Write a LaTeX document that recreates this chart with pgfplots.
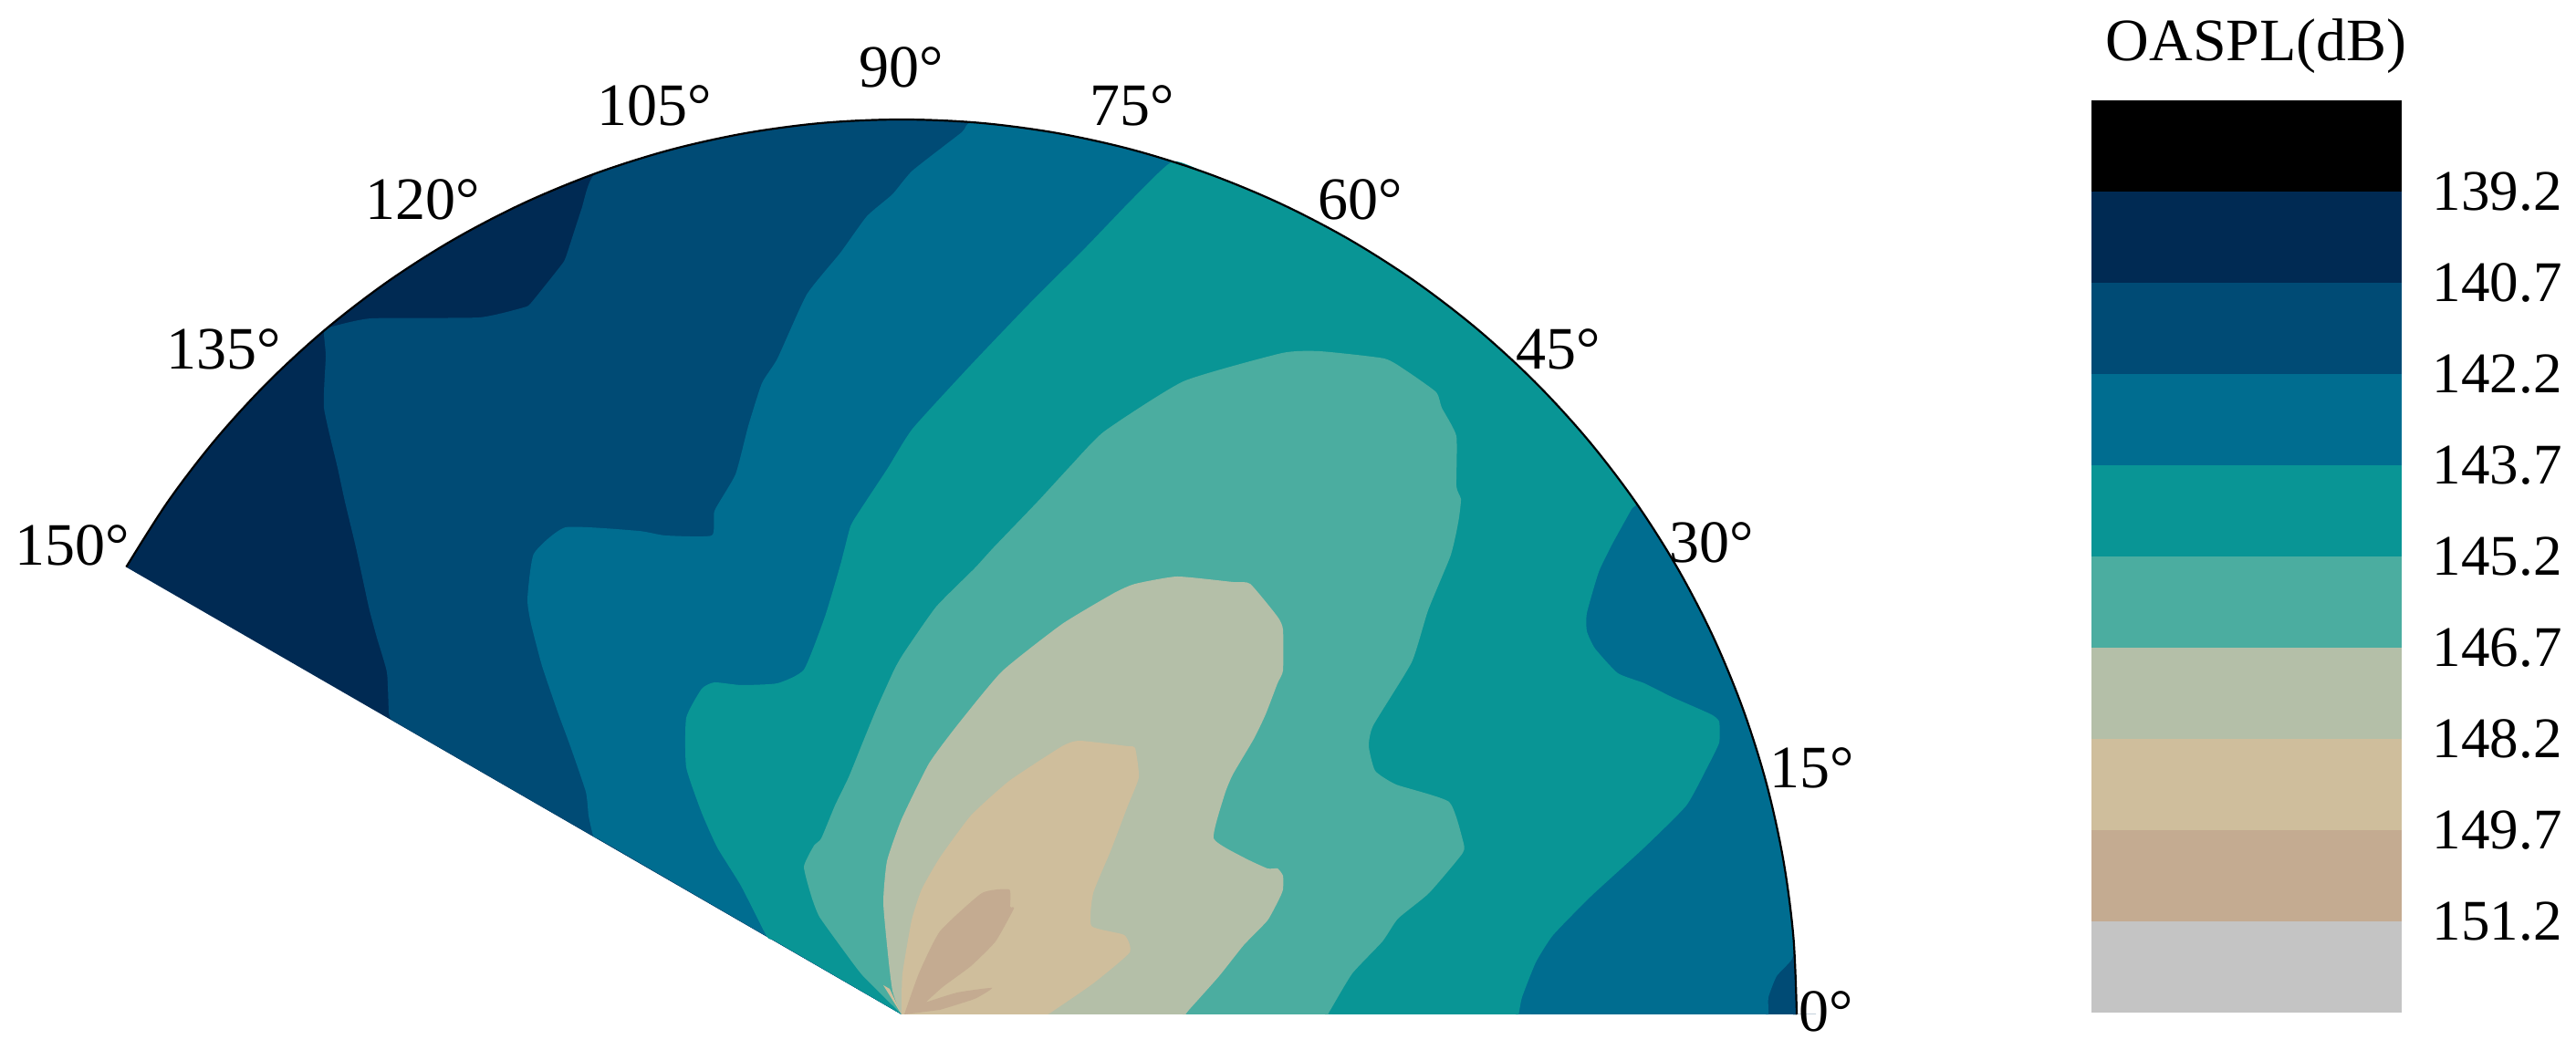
\documentclass[border=0pt]{standalone}
\usepackage{pgfplots}
\pgfplotsset{compat=1.18}
\usepackage{fontspec}
\setmainfont{Liberation Serif}
\definecolor{cA}{HTML}{000000}
\definecolor{cB}{HTML}{002A53}
\definecolor{cC}{HTML}{004B75}
\definecolor{cD}{HTML}{006D90}
\definecolor{cE}{HTML}{099595}
\definecolor{cF}{HTML}{4BADA0}
\definecolor{cG}{HTML}{B4BFA8}
\definecolor{cH}{HTML}{CFBE9C}
\definecolor{cI}{HTML}{C4AB91}
\definecolor{cJ}{HTML}{C4C4C4}
\newcommand{\lblfont}{\fontsize{15.75}{18}\selectfont}
\newcommand{\anglefont}{\fontsize{16.5}{18}\selectfont}
\begin{document}
\begin{tikzpicture}
\useasboundingbox (0,0) rectangle (705.75pt,287.75pt);
\begin{axis}[
  at={(0,0)}, anchor=south west,
  scale only axis, width=705.75pt, height=287.75pt,
  xmin=0, xmax=2823, ymin=0, ymax=1151, y dir=reverse,
  hide axis, clip=false,
  every axis plot/.append style={no markers},
]
% 140.7 band: whole sector
\addplot[fill=cB, draw=none, smooth, tension=0.3] coordinates {
 (988,1112)(1950,1112)(1965,1112)(1969,1112)(1969,1108)(1968,1090)(1965.3,1026.5)(1954.1,941.6)(1935.6,858.1)(1909.8,776.5)(1877.1,697.4)(1837.6,621.5)
 (1791.6,549.3)(1739.5,481.4)(1681.7,418.3)(1618.6,360.5)(1550.7,308.4)(1478.5,262.4)(1402.6,222.9)(1323.5,190.2)
 (1241.9,164.4)(1158.4,145.9)(1073.5,134.7)(988,131)(902.5,134.7)(817.6,145.9)(734.1,164.4)(652.5,190.2)
 (573.4,222.9)(497.5,262.4)(425.3,308.4)(357.4,360.5)(294.3,418.3)(236.5,481.4)(184.4,549.3)(140,619)(138.4,621.5)(145,625.5)} -- cycle;
% 142.2 band
\addplot[fill=cC, draw=none, smooth, tension=0.3] coordinates {
 (988,1112)(1950,1112)(1965,1112)(1969,1112)(1969,1108)(1968,1090)(1965.3,1026.5)(1954.1,941.6)(1935.6,858.1)(1909.8,776.5)(1877.1,697.4)(1837.6,621.5)
 (1791.6,549.3)(1739.5,481.4)(1681.7,418.3)(1618.6,360.5)(1550.7,308.4)(1478.5,262.4)(1402.6,222.9)(1323.5,190.2)
 (1241.9,164.4)(1158.4,145.9)(1073.5,134.7)(988,131)(902.5,134.7)(817.6,145.9)(734.1,164.4)(652.5,190.2)
 (637,230)(620,282)(614,292)(582,332)(574,337)(525,348)(407,349)(364,358)(355,363)
 (357,390)(355,447)(370,513)(378,550)(390,600)(404,665)(413,699)(424,737)(426,780)(428,788)(434,792)} -- cycle;
% 143.7 band
\addplot[fill=cD, draw=none, smooth, tension=0.3] coordinates {
 (988,1112)(1925,1112)(1935,1112)(1938,1112)(1938,1108)(1938,1093)(1947,1070)(1964,1051)(1965.3,1026.5)(1954.1,941.6)(1935.6,858.1)(1909.8,776.5)(1877.1,697.4)(1837.6,621.5)
 (1791.6,549.3)(1739.5,481.4)(1681.7,418.3)(1618.6,360.5)(1550.7,308.4)(1478.5,262.4)(1402.6,222.9)(1323.5,190.2)
 (1241.9,164.4)(1158.4,145.9)(1066,134)(1054,145)(1000,187)(978,213)(950,237)(921,277)(884,323)(852,393)(835,420)
 (820,467)(806,520)(783,560)(780,587)(729,587)(700,582)(620,578)(585,607)(578,657)(582,684)(594,730)(611,780)(625,818)
 (642,868)(645,894)(650,916)(656,919.5)} -- cycle;
% 145.2 band
\addplot[fill=cE, draw=none, smooth, tension=0.3] coordinates {
 (988,1112)(1650,1112)(1661,1112)(1664,1112)(1665,1108)(1668,1093)(1683,1055)(1702,1025)(1744,982)(1802,929)(1848,883)(1871,841)(1884,814)(1884,791)
 (1875,783)(1832,764)(1802,749)(1773,738)(1748,711)(1739,692)(1739,672)(1752,627)(1767,596)(1788,558)
 (1791.6,549.3)(1739.5,481.4)(1681.7,418.3)(1618.6,360.5)(1550.7,308.4)(1478.5,262.4)(1402.6,222.9)(1323.5,190.2)(1285,177)
 (1242,217)(1191,270)(1128,333)(1064,400)(1000,470)(973,513)(944,557)(932,577)(921,619)(904,676)(881,734)(852,749)
 (812,751)(783,748)(769,755)(752,787)(752,841)(769,891)(786,929)(812,971)(840,1026)(846,1029.5)} -- cycle;
% 146.7 band
\addplot[fill=cF, draw=none, smooth, tension=0.3] coordinates {
 (988,1112)(1440,1112)(1452,1112)(1455,1112)(1458,1107)(1482,1067)(1515,1032)(1532,1007)(1566,979)(1603,935)(1603,921)(1588,879)(1530,860)(1507,845)(1500,818)(1505,795)
 (1547,726)(1565,669)(1589,611)(1595,588)(1599,567)(1601,547)(1596,533)(1596,478)(1580,447)(1574,430)(1542,407)(1517,393)(1446,385)(1405,387)
 (1297,418)(1210,473)(1172,512)(1137,550)(1089,600)(1068,623)(1026,665)(991,715)(980,734)(961,776)(947,810)(930,852)(915,883)(900,919)(892,927)
 (881,950)(889,982)(898,1005)(926,1044)(945,1069)(980,1104)(985,1109)} -- cycle;
% 148.2 band
\addplot[fill=cG, draw=none, smooth, tension=0.3] coordinates {
 (988,1112)(1285,1112)(1296,1112)(1299,1112)(1303,1107)(1336,1070)(1363,1036)(1389,1009)(1402,985)(1406,975)(1406,960)(1400,952)(1389,952)(1363,940)(1330,919)
 (1342,871)(1351,849)(1374,810)(1387,783)(1400,749)(1406,735)(1406,690)(1400,676)(1370,640)(1351,638)(1290,632)(1244,640)(1221,650)
 (1164,684)(1098,736)(1049,795)(1018,837)(988,898)(972,944)(968,990)(974,1055)(978,1086)(984,1104)} -- cycle;
% 149.7 band
\addplot[fill=cH, draw=none, smooth, tension=0.3] coordinates {
 (988,1112)(1135,1112)(1145,1112)(1148,1112)(1153,1109)(1198,1078)(1238,1044)(1232,1025)(1196,1015)(1198,979)(1217,933)(1236,883)(1248,852)(1244,820)(1236,818)
 (1183,812)(1164,818)(1106,856)(1064,894)(1030,940)(1010,975)(999,1009)(989,1067)(988,1100)} -- cycle;
\addplot[fill=cH, draw=none] coordinates {(988,1112)(968,1080)(975,1084)} -- cycle;
% 151.2 band
\addplot[fill=cI, draw=none, smooth, tension=0.3] coordinates {
 (991,1112)(1007,1067)(1030,1021)(1076,979)(1106,975)(1107,994)(1111,996)(1091,1032)(1064,1059)(1033,1082)(1012,1101)
 (1014,1099)(1049,1088)(1087,1083)(1068,1095)(1030,1107)} -- cycle;
% outer arc
\addplot[black, line width=0.55pt, smooth, tension=0.55] coordinates {
 (1969,1112)(1965.3,1026.5)(1954.1,941.6)(1935.6,858.1)(1909.8,776.5)(1877.1,697.4)(1837.6,621.5)
 (1791.6,549.3)(1739.5,481.4)(1681.7,418.3)(1618.6,360.5)(1550.7,308.4)(1478.5,262.4)(1402.6,222.9)(1323.5,190.2)
 (1241.9,164.4)(1158.4,145.9)(1073.5,134.7)(988,131)(902.5,134.7)(817.6,145.9)(734.1,164.4)(652.5,190.2)
 (573.4,222.9)(497.5,262.4)(425.3,308.4)(357.4,360.5)(294.3,418.3)(236.5,481.4)(184.4,549.3)(138.4,621.5)};
% angle labels
\foreach \xx/\yy/\tt in {79/598/150,245/383/135,463/219/120,717/116/105,988/74/90,1241/116/75,1491/219/60,1708/383/45,1876/595/30,1986/842/15,2001/1109/0}{
  \edef\temp{\noexpand\node[font=\noexpand\anglefont, inner sep=0pt] at (axis cs:\xx,\yy) {\tt°};}
  \temp
}
\end{axis}
% colour scale
\begin{axis}[
  at={(573pt,10.25pt)}, anchor=south west,
  scale only axis, width=85pt, height=250pt,
  xmin=0, xmax=1, ymin=137.7, ymax=152.7, y dir=reverse,
  axis line style={draw=none}, xtick=\empty,
  ytick={139.2,140.7,142.2,143.7,145.2,146.7,148.2,149.7,151.2},
  yticklabels={139.2,140.7,142.2,143.7,145.2,146.7,148.2,149.7,151.2},
  yticklabel pos=right, major tick length=0pt,
  yticklabel style={font=\lblfont, anchor=west, inner sep=0pt, xshift=8.25pt},
  every axis title shift=0pt,
  title={OASPL(dB)},
  title style={at={(axis description cs:0.532,1.059)}, anchor=center, font=\fontsize{16.5}{18}\selectfont, inner sep=0pt},
  every axis plot/.append style={no markers},
  clip=false,
]
\addplot[fill=cA, draw=none] coordinates {(0,137.7)(1,137.7)(1,139.2)(0,139.2)} -- cycle;
\addplot[fill=cB, draw=none] coordinates {(0,139.2)(1,139.2)(1,140.7)(0,140.7)} -- cycle;
\addplot[fill=cC, draw=none] coordinates {(0,140.7)(1,140.7)(1,142.2)(0,142.2)} -- cycle;
\addplot[fill=cD, draw=none] coordinates {(0,142.2)(1,142.2)(1,143.7)(0,143.7)} -- cycle;
\addplot[fill=cE, draw=none] coordinates {(0,143.7)(1,143.7)(1,145.2)(0,145.2)} -- cycle;
\addplot[fill=cF, draw=none] coordinates {(0,145.2)(1,145.2)(1,146.7)(0,146.7)} -- cycle;
\addplot[fill=cG, draw=none] coordinates {(0,146.7)(1,146.7)(1,148.2)(0,148.2)} -- cycle;
\addplot[fill=cH, draw=none] coordinates {(0,148.2)(1,148.2)(1,149.7)(0,149.7)} -- cycle;
\addplot[fill=cI, draw=none] coordinates {(0,149.7)(1,149.7)(1,151.2)(0,151.2)} -- cycle;
\addplot[fill=cJ, draw=none] coordinates {(0,151.2)(1,151.2)(1,152.7)(0,152.7)} -- cycle;
\end{axis}
\end{tikzpicture}
\end{document}
